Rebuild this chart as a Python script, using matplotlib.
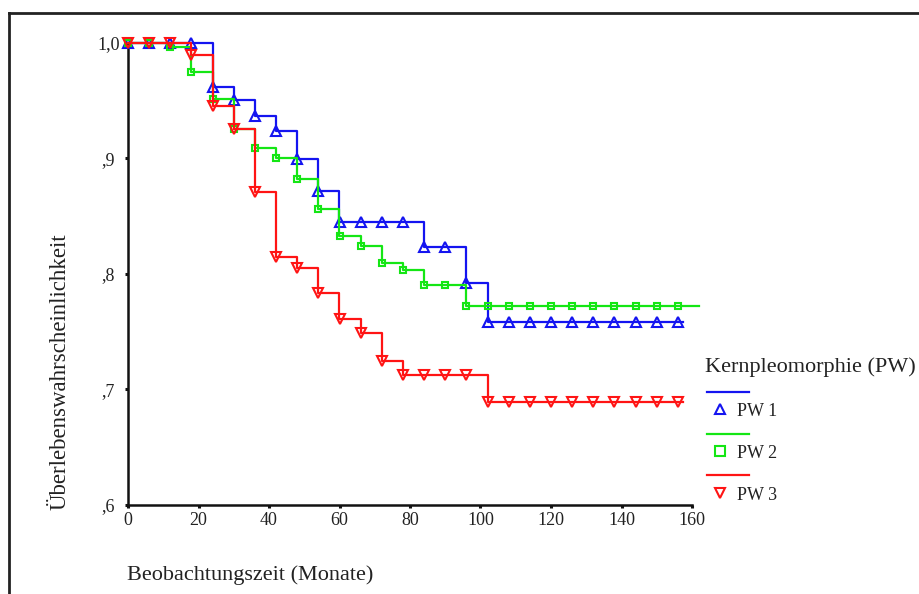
import matplotlib
matplotlib.use("Agg")
import matplotlib.pyplot as plt
from matplotlib.lines import Line2D

# Kaplan-Meier survival by nuclear pleomorphism grade (PW)
months = [0, 6, 12, 18, 24, 30, 36, 42, 48, 54, 60, 66, 72, 78, 84, 90,
          96, 102, 108, 114, 120, 126, 132, 138, 144, 150, 156]

surv_pw1 = [1.000, 1.000, 1.000, 1.000, 0.962, 0.950, 0.937, 0.924, 0.899,
            0.872, 0.845, 0.845, 0.845, 0.845, 0.823, 0.823, 0.7925,
            0.758, 0.758, 0.758, 0.758, 0.758, 0.758, 0.758, 0.758, 0.758, 0.758]
surv_pw2 = [1.000, 1.000, 0.996, 0.975, 0.951, 0.925, 0.909, 0.900, 0.882,
            0.856, 0.833, 0.824, 0.809, 0.803, 0.790, 0.790, 0.772,
            0.772, 0.772, 0.772, 0.772, 0.772, 0.772, 0.772, 0.772, 0.772, 0.772]
surv_pw3 = [1.000, 1.000, 1.000, 0.989, 0.945, 0.925, 0.871, 0.815, 0.805,
            0.783, 0.761, 0.749, 0.725, 0.7125, 0.7125, 0.7125, 0.7125,
            0.689, 0.689, 0.689, 0.689, 0.689, 0.689, 0.689, 0.689, 0.689, 0.689]

# last follow-up time of each group (curve is drawn up to here)
followup_end = [157.5, 162.0, 157.5]

group_labels = ["PW 1", "PW 2", "PW 3"]
group_colors = ["#1414f0", "#14e614", "#ff1414"]
group_markers = ["^", "s", "v"]
group_msize = [7.5, 5.0, 7.5]

x_ticks = [0, 20, 40, 60, 80, 100, 120, 140, 160]
y_ticks = [0.6, 0.7, 0.8, 0.9, 1.0]
y_tick_labels = [",6", ",7", ",8", ",9", "1,0"]

W, H = 920, 594
SERIF = ["Liberation Serif", "DejaVu Serif"]
plt.rcParams["font.family"] = SERIF


def fx(px):
    return px / W


def fy(py):
    return 1 - py / H


fig = plt.figure(figsize=(W / 100, H / 100), dpi=100)
ax = fig.add_axes([fx(128), fy(505), (692 - 128) / W, (505 - 42.7) / H])

series = [surv_pw1, surv_pw2, surv_pw3]
for surv, end, col, mk, ms, z in zip(series, followup_end, group_colors,
                                     group_markers, group_msize, [3, 4, 5]):
    ax.plot(months + [end], surv + [surv[-1]], drawstyle="steps-post",
            color=col, lw=1.6, clip_on=False, zorder=z)
    ax.plot(months, surv, linestyle="none", marker=mk, markersize=ms,
            markerfacecolor="none", markeredgecolor=col, markeredgewidth=1.5,
            clip_on=False, zorder=z)

ax.set_xlim(0, 160)
ax.set_ylim(0.6, 1.0)
ax.set_xticks(x_ticks)
ax.set_xticklabels([str(v) for v in x_ticks])
ax.set_yticks(y_ticks)
ax.set_yticklabels(y_tick_labels)
for lab in ax.get_yticklabels():
    lab.set_horizontalalignment("center")

for side in ("top", "right"):
    ax.spines[side].set_visible(False)
for side in ("left", "bottom"):
    ax.spines[side].set_linewidth(1.8)
    ax.spines[side].set_color("#111111")

ax.tick_params(axis="both", direction="out", length=2.2, width=2.2,
               color="#111111", labelsize=13, labelcolor="#222222")
ax.tick_params(axis="y", pad=12)
ax.tick_params(axis="x", pad=3)

# axis titles
fig.text(fx(60), fy(372), "Überlebenswahrscheinlichkeit", rotation=90,
         ha="center", va="center", fontsize=16.5, color="#222222")
fig.text(fx(127), fy(575), "Beobachtungszeit (Monate)", ha="left",
         va="center", fontsize=16, color="#222222")

# legend block
fig.text(fx(705), fy(367), "Kernpleomorphie (PW)", ha="left", va="center",
         fontsize=16, color="#222222")
line_rows = [392, 434, 475]
marker_rows = [409, 451, 493]
for lab, col, mk, ly, my in zip(group_labels, group_colors, group_markers,
                                line_rows, marker_rows):
    fig.add_artist(Line2D([fx(707), fx(749)], [fy(ly), fy(ly)], color=col,
                          lw=1.6, transform=fig.transFigure))
    fig.add_artist(Line2D([fx(720)], [fy(my)], marker=mk, markersize=6.5,
                          markerfacecolor="none", markeredgecolor=col,
                          markeredgewidth=1.5, linestyle="none",
                          transform=fig.transFigure))
    fig.text(fx(737), fy(my + 2), lab, ha="left", va="center", fontsize=13,
             color="#222222")

# outer frame (top and left edges)
fig.add_artist(Line2D([fx(9.5), 1.0], [fy(13), fy(13)], color="#222222",
                      lw=2.0, transform=fig.transFigure))
fig.add_artist(Line2D([fx(9.5), fx(9.5)], [0.0, fy(13)], color="#222222",
                      lw=2.0, transform=fig.transFigure))

fig.savefig("out.png", dpi=100)
